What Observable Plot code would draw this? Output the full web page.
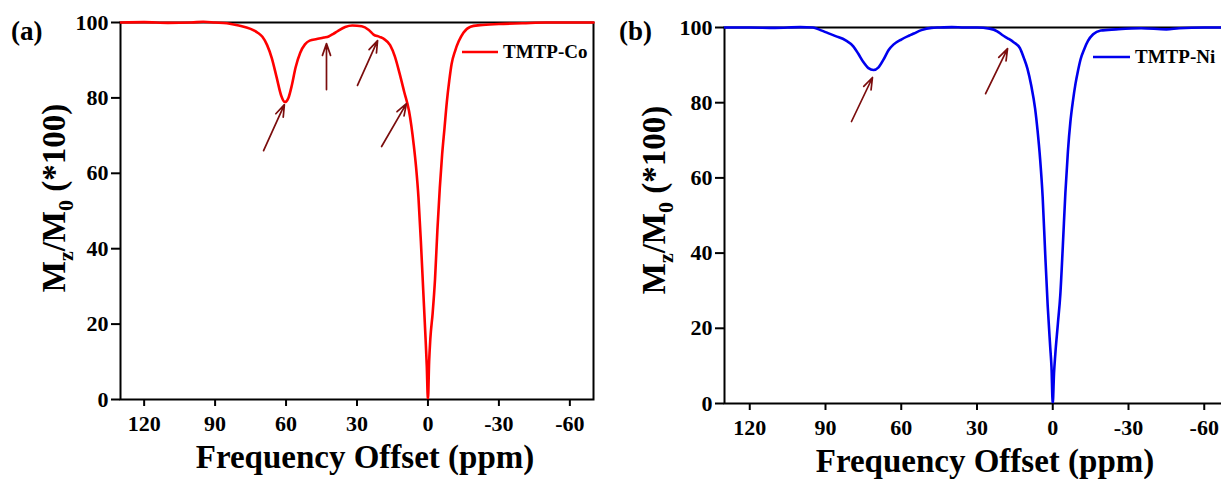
<!DOCTYPE html>
<html>
<head>
<meta charset="utf-8">
<script src="https://cdn.jsdelivr.net/npm/d3@7"></script>
<script src="https://cdn.jsdelivr.net/npm/@observablehq/plot@0.6"></script>
<style>
  html, body { margin: 0; padding: 0; background: white; }
  #wrap { position: relative; width: 1221px; height: 479px; overflow: hidden; background: white; }
  #wrap svg { position: absolute; top: 0; }
</style>
</head>
<body>
<div id="wrap"></div>
<script>
// ---- data ----
const xTicks = [120, 90, 60, 30, 0, -30, -60];
const yTicks = [0, 20, 40, 60, 80, 100];

const coPpm = [130,120,110,100,95,90,85,80,75,72,70,68,66,64,62,60.5,59,57.5,56,54,52,50,47,44,42,40,38,35,32,28,25,23,20.5,18.5,16,14,12,10,8,7,6,5,4,3,2,1,0.5,0,-0.5,-1,-2,-3,-4,-5,-6,-7,-8,-9,-10,-11.5,-13,-15,-18,-22,-30,-40,-50,-60,-70];
const coSignal = [100,100.1,99.9,100,100.2,100,99.8,99.2,98.3,97.3,96.2,94,90.5,85.5,80.5,78.9,80,83.5,88,92,94.2,95.2,95.6,96,96.3,97,97.8,98.8,99.2,99,98,96.8,96.2,95.6,94,91,86.5,81.5,76.5,72.5,67.5,61.5,53.5,42,29,16,9,0,10,16,23,32,45,56,65,72,79,84.5,89,92.5,95,97.3,98.9,99.3,99.6,99.8,100,100,100];

const niPpm = [130,120,110,100,95,92,89,86,82,79,77,75,73,71,69,67,65,63,60,57,55,52,48,45,40,35,30,25,22,20,18,15.5,13,11.5,10,8.5,7,6,5,4,3,2,1,0.5,0,-0.5,-1,-2,-3,-4,-5,-6,-7,-8,-9,-10,-11,-12.5,-14,-16,-19,-25,-35,-45,-50,-60,-70];
const niSignal = [100,100,99.9,100.1,100,99.3,98.5,97.7,96.6,95,93,90.8,89.2,88.7,89.4,91.5,94,95.5,96.8,97.8,98.4,99.3,99.9,100,100.1,100,100,99.7,99,98,97.2,96.1,94.5,92,89,84.5,78.5,72.5,65,55,40,26,15,9.7,0,8,13,21,29,42,56,67,75,80.5,85,88.5,91.5,94.3,96.5,98.2,99.2,99.5,99.8,99.5,99.8,100,100];

// annotation arrows (tail -> head), in data units
const coArrowTailPpm = [69.5, 42.9, 29.8, 19.6];
const coArrowTailSig = [66, 82.2, 83.3, 67.1];
const coArrowHeadPpm = [60.7, 42.9, 21.3, 9.1];
const coArrowHeadSig = [78.2, 94.4, 95.2, 78.5];

const niArrowTailPpm = [79.7, 26.6];
const niArrowTailSig = [75, 82.4];
const niArrowHeadPpm = [71.4, 17.9];
const niArrowHeadSig = [86.7, 94.4];

const FONT = "'Liberation Serif', 'Times New Roman', serif";

function makePanel(cfg) {
  const data = cfg.ppm.map((x, i) => ({x, y: cfg.sig[i]}));
  const arrows = cfg.tx.map((d, i) => ({x1: cfg.tx[i], y1: cfg.ty[i], x2: cfg.hx[i], y2: cfg.hy[i]}));
  const svg = Plot.plot({
    width: cfg.width, height: 479,
    marginLeft: cfg.mL, marginRight: cfg.mR, marginTop: cfg.mT, marginBottom: cfg.mB,
    x: {domain: [130, -70], label: null},
    y: {domain: [0, 100], label: null},
    style: {fontFamily: FONT, fontWeight: "bold", fontSize: "22px", color: "black", background: "transparent", overflow: "visible"},
    marks: [
      Plot.frame({stroke: "black", strokeWidth: 2}),
      Plot.line(data, {x: "x", y: "y", stroke: cfg.color, strokeWidth: 2.6, curve: "monotone-x"}),
      Plot.arrow(arrows, {x1: "x1", y1: "y1", x2: "x2", y2: "y2", stroke: "#7b0d0d", strokeWidth: 1.7, headLength: 11, headAngle: 38}),
      Plot.axisX({ticks: xTicks, tickFormat: d => String(d), tickSize: 7, tickPadding: 9, strokeWidth: 2, fontSize: 22, label: null}),
      Plot.axisY({ticks: yTicks, tickFormat: d => String(d), tickSize: 9, tickPadding: 3, strokeWidth: 2, fontSize: 22, label: null})
    ]
  });
  svg.style.left = cfg.left + "px";
  const s = d3.select(svg);
  const g = s.append("g").attr("font-family", FONT).attr("font-weight", "bold").attr("fill", "black");
  g.append("text").attr("x", cfg.tagX).attr("y", 40).attr("font-size", 27).attr("text-anchor", "start").text(cfg.tag);
  g.append("text").attr("x", cfg.titleX).attr("y", cfg.titleY).attr("font-size", 33)
    .attr("text-anchor", "middle").text("Frequency Offset (ppm)");
  const yl = g.append("text").attr("transform", `translate(${cfg.ylX},${cfg.ylY}) rotate(-90)`)
    .attr("font-size", 33).attr("text-anchor", "middle");
  yl.append("tspan").text("M");
  yl.append("tspan").attr("font-size", 22).attr("dy", 8).text("z");
  yl.append("tspan").attr("dy", -8).text("/M");
  yl.append("tspan").attr("font-size", 22).attr("dy", 8).text("0");
  yl.append("tspan").attr("dy", -8).text(" (*100)");
  g.append("line").attr("x1", cfg.legX1).attr("x2", cfg.legX2).attr("y1", cfg.legY).attr("y2", cfg.legY)
    .attr("stroke", cfg.color).attr("stroke-width", 2.6);
  g.append("text").attr("x", cfg.legX2 + 5).attr("y", cfg.legY + 6).attr("font-size", 19)
    .attr("text-anchor", "start").text(cfg.name);
  return svg;
}

const wrap = document.getElementById("wrap");
wrap.appendChild(makePanel({
  ppm: coPpm, sig: coSignal, color: "#ff0000", name: "TMTP-Co", tag: "(a)",
  tx: coArrowTailPpm, ty: coArrowTailSig, hx: coArrowHeadPpm, hy: coArrowHeadSig,
  left: 0, width: 610, mL: 120, mR: 17, mT: 22, mB: 80,
  tagX: 11, titleX: 365, titleY: 468, ylX: 65, ylY: 198,
  legX1: 462, legX2: 498, legY: 52
}));
wrap.appendChild(makePanel({
  ppm: niPpm, sig: niSignal, color: "#0000ee", name: "TMTP-Ni", tag: "(b)",
  tx: niArrowTailPpm, ty: niArrowTailSig, hx: niArrowHeadPpm, hy: niArrowHeadSig,
  left: 610, width: 630, mL: 114, mR: 11, mT: 27, mB: 76,
  tagX: 9, titleX: 375, titleY: 472, ylX: 55, ylY: 200,
  legX1: 483, legX2: 520, legY: 57
}));
</script>
</body>
</html>
